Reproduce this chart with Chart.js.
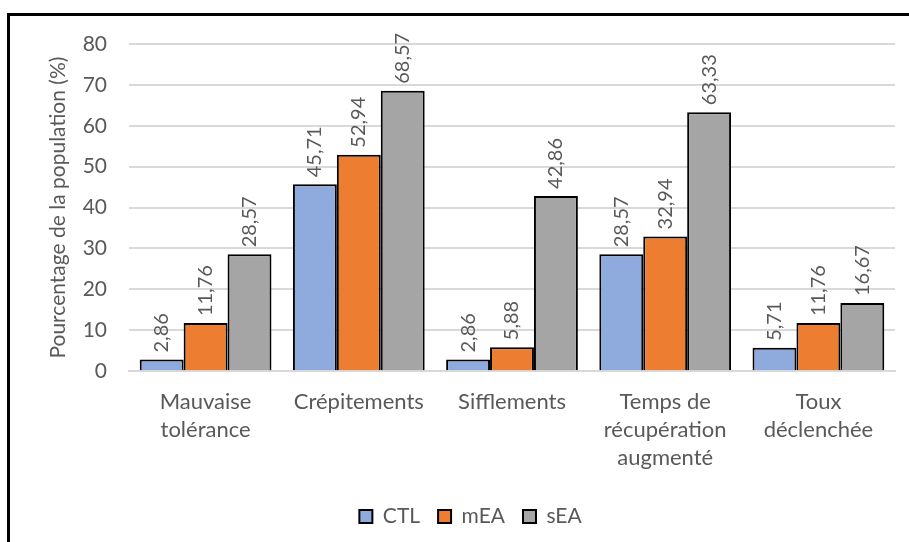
<!DOCTYPE html>
<html>
<head>
<meta charset="utf-8">
<script src="https://cdn.jsdelivr.net/npm/chart.js@4"></script>
<style>
  body { margin: 0; background: #fff; overflow: hidden; }
  #frame {
    position: absolute; left: 7px; top: 13px;
    width: 1000px; height: 1000px;
    border-left: 3px solid #000; border-top: 3px solid #000;
  }
  #wrap { position: absolute; left: 0; top: 0; width: 899px; height: 531px; }
</style>
</head>
<body>
<div id="frame"><div id="wrap"><canvas id="chart"></canvas></div></div>
<script>
// categories and series
const categories = [
  ['Mauvaise', 'tolérance'],
  'Crépitements',
  'Sifflements',
  ['Temps de', 'récupération', 'augmenté'],
  ['Toux', 'déclenchée']
];
const ctlValues = [2.86, 45.71, 2.86, 28.57, 5.71];
const meaValues = [11.76, 52.94, 5.88, 32.94, 11.76];
const seaValues = [28.57, 68.57, 42.86, 63.33, 16.67];
const yTicks = [0, 10, 20, 30, 40, 50, 60, 70, 80];

const FONT = 'Lato, Carlito, Calibri, sans-serif';
const TEXT = '#595959';

// etiquettes de valeur tournées au-dessus des barres
const valueLabels = {
  id: 'valueLabels',
  afterDatasetsDraw(chart) {
    const ctx = chart.ctx;
    ctx.save();
    ctx.font = '20px ' + FONT;
    ctx.fillStyle = TEXT;
    ctx.textAlign = 'left';
    ctx.textBaseline = 'middle';
    chart.data.datasets.forEach((ds, i) => {
      const meta = chart.getDatasetMeta(i);
      meta.data.forEach((bar, j) => {
        const txt = ds.data[j].toFixed(2).replace('.', ',');
        ctx.save();
        ctx.translate(bar.x, bar.y - 7);
        ctx.rotate(-Math.PI / 2);
        ctx.fillText(txt, 0, 0);
        ctx.restore();
      });
    });
    ctx.restore();
  }
};

new Chart(document.getElementById('chart'), {
  type: 'bar',
  data: {
    labels: categories,
    datasets: [
      { label: 'CTL', data: ctlValues, backgroundColor: '#8FAADC' },
      { label: 'mEA', data: meaValues, backgroundColor: '#ED7D31' },
      { label: 'sEA', data: seaValues, backgroundColor: '#A5A5A5' }
    ].map(d => Object.assign(d, { borderColor: '#000', borderWidth: 2, borderSkipped: 'bottom' }))
  },
  options: {
    responsive: true,
    maintainAspectRatio: false,
    animation: false,
    layout: { padding: { left: 36, right: 14, top: 28, bottom: 10 } },
    datasets: { bar: { categoryPercentage: 0.86, barPercentage: 1 } },
    plugins: {
      legend: {
        position: 'bottom',
        labels: {
          font: { size: 21, family: FONT },
          color: TEXT,
          boxWidth: 13,
          boxHeight: 13,
          padding: 18
        }
      },
      tooltip: { enabled: false }
    },
    scales: {
      x: {
        grid: { display: false },
        border: { color: '#D9D9D9', width: 2 },
        ticks: { font: { size: 22, family: FONT, lineHeight: 1.27 }, color: TEXT, maxRotation: 0, padding: 9 },
        afterFit(axis) { axis.height += 7; }
      },
      y: {
        min: 0, max: 80,
        afterBuildTicks(axis) { axis.ticks = yTicks.map(v => ({ value: v })); },
        afterFit(axis) {
          axis.width = 83;
          axis.paddingTop = 0;
          axis.paddingBottom = 0;
        },
        grid: { color: '#D9D9D9', lineWidth: 2, drawTicks: false },
        border: { display: false },
        ticks: { font: { size: 21, family: FONT }, color: TEXT, padding: 22 },
        title: {
          display: true,
          text: 'Pourcentage de la population (%)',
          font: { size: 21, family: FONT },
          color: TEXT,
          padding: { top: 0, bottom: 10 }
        }
      }
    }
  },
  plugins: [valueLabels]
});
</script>
</body>
</html>
